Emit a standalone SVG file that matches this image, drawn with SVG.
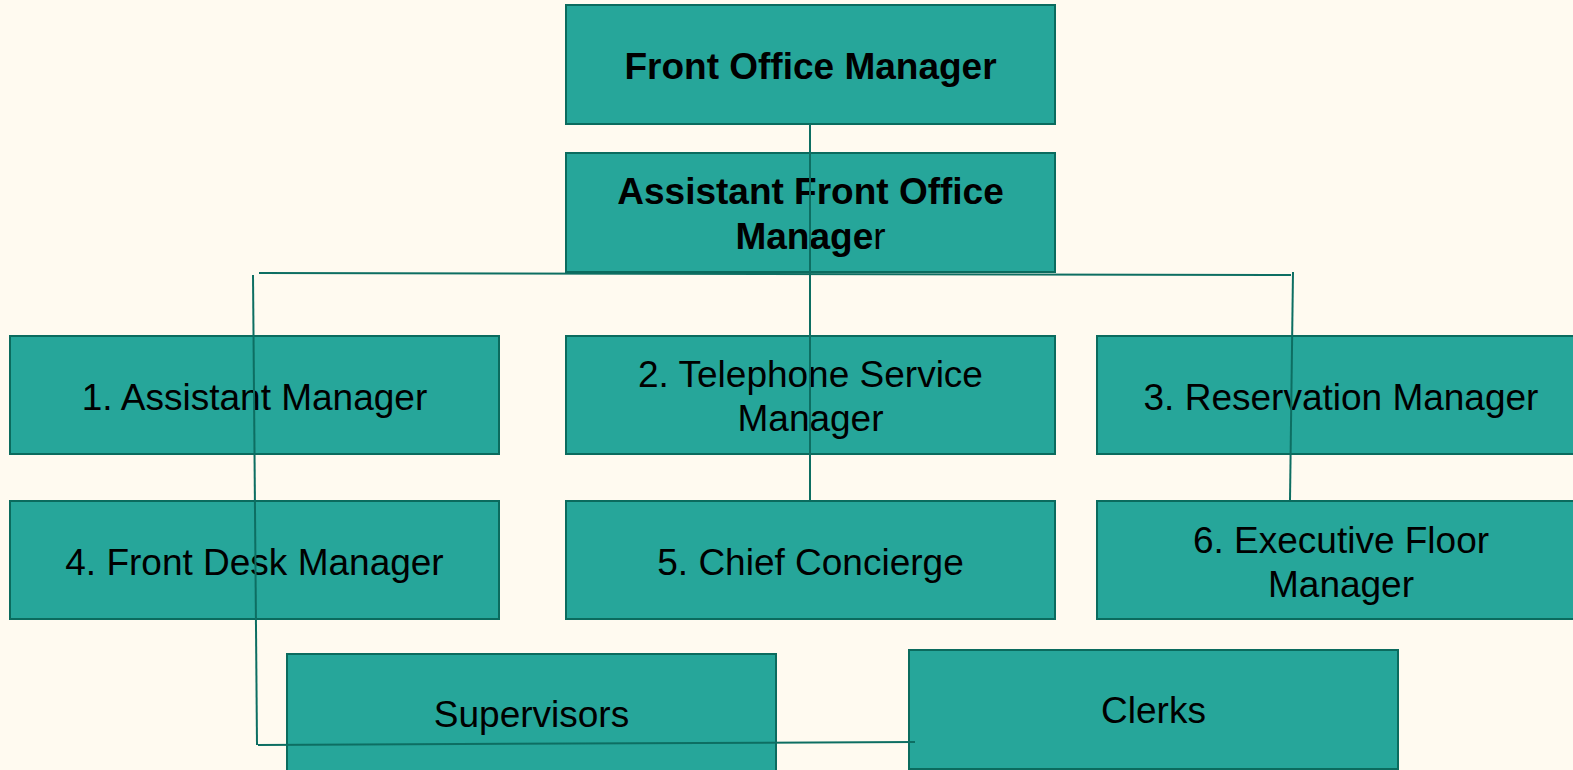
<svg xmlns="http://www.w3.org/2000/svg" width="1573" height="770" viewBox="0 0 1573 770">
<style>
.box{fill:#26a69a;stroke:#0b6b5e;stroke-width:2}
.t{font-family:"Liberation Sans",Arial,sans-serif;font-size:37px;fill:#000;text-anchor:middle}
.b{font-weight:bold}
.c{fill:none;stroke:#0d6e62;stroke-width:2}
</style>
<rect width="1573" height="770" fill="#fffaf0"/>
<g id="n-fom"><rect class="box" x="566" y="5" width="489" height="119"/><text class="t b" x="810.5" y="79">Front Office Manager</text></g>
<g id="n-afom"><rect class="box" x="566" y="153" width="489" height="119"/><text class="t b" x="810.5" y="204">Assistant Front Office</text><text class="t b" x="810.5" y="249">Manage<tspan font-weight="normal">r</tspan></text></g>
<g id="n-am"><rect class="box" x="10" y="336" width="489" height="118"/><text class="t" x="254.5" y="410">1. Assistant Manager</text></g>
<g id="n-tsm"><rect class="box" x="566" y="336" width="489" height="118"/><text class="t" x="810.5" y="387">2. Telephone Service</text><text class="t" x="810.5" y="431">Manager</text></g>
<g id="n-rm"><rect class="box" x="1097" y="336" width="489" height="118"/><text class="t" x="1341" y="410">3. Reservation Manager</text></g>
<g id="n-fdm"><rect class="box" x="10" y="501" width="489" height="118"/><text class="t" x="254.5" y="575">4. Front Desk Manager</text></g>
<g id="n-cc"><rect class="box" x="566" y="501" width="489" height="118"/><text class="t" x="810.5" y="575">5. Chief Concierge</text></g>
<g id="n-efm"><rect class="box" x="1097" y="501" width="489" height="118"/><text class="t" x="1341" y="553">6. Executive Floor</text><text class="t" x="1341" y="597">Manager</text></g>
<g id="n-sup"><rect class="box" x="287" y="654" width="489" height="130"/><text class="t" x="531.5" y="727">Supervisors</text></g>
<g id="n-clerks"><rect class="box" x="909" y="650" width="489" height="119"/><text class="t" x="1153.5" y="723">Clerks</text></g>
<g id="connectors">
<line class="c" x1="810" y1="124" x2="810" y2="500"/>
<line class="c" x1="259" y1="273" x2="1291" y2="275"/>
<line class="c" x1="253" y1="275" x2="257" y2="745"/>
<line class="c" x1="1293" y1="272" x2="1290" y2="500"/>
<line class="c" x1="258" y1="745" x2="915" y2="742"/>
</g>
</svg>
